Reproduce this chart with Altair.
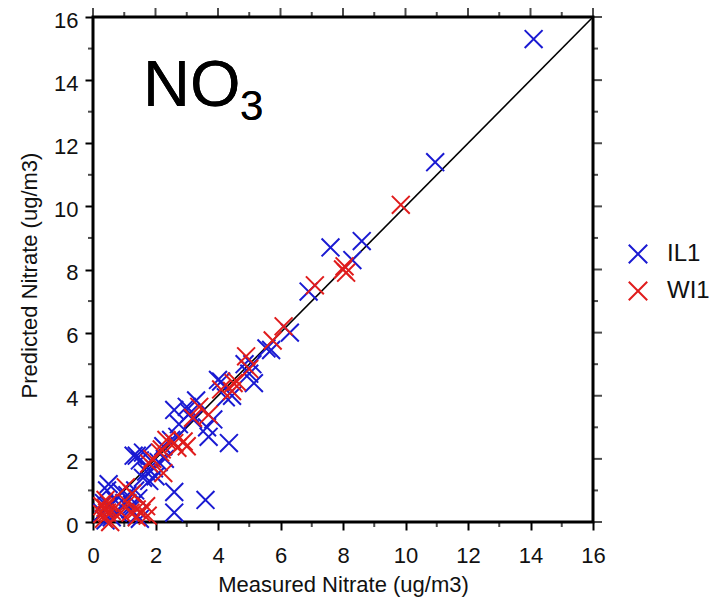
import altair as alt
import pandas as pd

# ---------------- data ----------------
il1_x = [14.1, 10.95, 8.6, 8.3, 7.6, 6.9, 6.3, 5.55, 5.7, 5.1, 4.85, 5.15, 5.0, 4.1, 4.0,
         4.45, 4.25, 3.3, 3.0, 3.85, 3.65, 3.7, 4.35, 2.6, 3.1, 3.2, 2.75, 2.7, 2.25, 2.5,
         1.4, 1.3, 1.5, 1.6, 1.95, 2.0, 1.8, 2.6, 3.6, 2.6, 0.5, 0.45, 1.2, 1.0, 0.8,
         0.6, 0.4, 0.3, 1.4, 1.1, 1.25, 0.9, 1.6, 1.7, 2.1, 2.3, 0.55, 1.5, 0.7, 1.35,
         0.35, 1.45]
il1_y = [15.3, 11.4, 8.9, 8.3, 8.7, 7.3, 6.0, 5.5, 5.45, 5.0, 5.0, 4.4, 4.7, 4.45, 4.5,
         4.0, 3.95, 3.85, 3.65, 3.25, 3.0, 2.7, 2.5, 3.55, 3.45, 3.25, 3.1, 2.7, 2.4, 2.6,
         2.1, 2.1, 1.95, 2.2, 1.7, 1.45, 1.3, 0.95, 0.7, 0.3, 1.2, 1.0, 0.4, 0.6, 0.3,
         0.15, 0.05, 0.3, 0.2, 0.85, 0.55, 0.95, 1.4, 1.6, 1.9, 2.0, 0.5, 0.1, 0.7, 1.0,
         0.6, 0.75]
wi1_x = [9.85, 8.0, 8.1, 8.05, 7.1, 6.1, 5.75, 4.9, 5.0, 4.5, 4.6, 4.1, 4.45, 3.4, 3.7,
         2.9, 3.0, 2.35, 2.15, 2.2, 1.8, 2.25, 1.05, 1.25, 0.4, 0.3, 0.45, 0.35, 0.5, 0.6,
         0.4, 1.4, 1.4, 1.7, 1.75, 1.1, 1.2, 0.9, 1.55, 0.55, 0.3, 1.9, 2.6, 2.7, 3.2]
wi1_y = [10.05, 8.0, 7.9, 8.1, 7.5, 6.2, 5.75, 5.25, 4.85, 4.4, 4.45, 4.2, 4.15, 3.65, 3.4,
         2.55, 2.4, 2.6, 2.2, 2.3, 1.85, 1.55, 1.1, 0.9, 0.45, 0.25, 0.3, 0.1, 0.6, 0.35,
         0.7, 0.4, 0.15, 0.5, 0.2, 0.6, 0.3, 0.3, 0.3, 0.0, 0.5, 2.0, 2.5, 2.35, 3.3]
sites = ["IL1", "WI1"]
site_colors = ["#1a1ad2", "#e01c1c"]
major_ticks = [0, 2, 4, 6, 8, 10, 12, 14, 16]
minor_ticks = [1, 3, 5, 7, 9, 11, 13, 15]
one_to_one = [0, 16]

df = pd.concat([
    pd.DataFrame({"x": il1_x, "y": il1_y, "site": "IL1"}),
    pd.DataFrame({"x": wi1_x, "y": wi1_y, "site": "WI1"}),
], ignore_index=True)
line_df = pd.DataFrame({"x": one_to_one, "y": one_to_one})
major_df = pd.DataFrame({"v": major_ticks})
minor_df = pd.DataFrame({"v": minor_ticks})

FONT = "Liberation Sans"
X_PATH = "M-1,-1L1,1M-1,1L1,-1"

xs = alt.Scale(domain=[0, 16], nice=False, zero=False)
ys = alt.Scale(domain=[0, 16], nice=False, zero=False)

x_axis = alt.Axis(values=major_ticks, title="Measured Nitrate (ug/m3)", labelPadding=15,
                  labelFlush=False, titleY=69, titleBaseline="alphabetic")
y_axis = alt.Axis(values=major_ticks, title="Predicted Nitrate (ug/m3)", labelPadding=7,
                  labelFlush=False, labelOffset=3, titleX=-57, titleY=258,
                  titleBaseline="alphabetic")

line = alt.Chart(line_df).mark_line(color="black", strokeWidth=1.6).encode(
    x=alt.X("x:Q", scale=xs, axis=x_axis),
    y=alt.Y("y:Q", scale=ys, axis=y_axis),
)

points = alt.Chart(df).mark_point(
    shape=X_PATH, filled=False, size=320, strokeWidth=2, opacity=1
).encode(
    x=alt.X("x:Q", scale=xs, axis=x_axis),
    y=alt.Y("y:Q", scale=ys, axis=y_axis),
    color=alt.Color("site:N", scale=alt.Scale(domain=sites, range=site_colors),
                    legend=alt.Legend(title=None, orient="none", legendX=533, legendY=225,
                                      symbolType=X_PATH, symbolSize=340, symbolStrokeWidth=2,
                                      symbolFillColor="transparent",
                                      labelFontSize=24, labelFont=FONT, labelColor="#111",
                                      labelOffset=17, rowPadding=9, padding=0)),
)


def vticks(data, at, length, sign):
    return alt.Chart(data).mark_tick(
        orient="vertical", size=length, thickness=2, color="black",
        yOffset=sign * (length / 2 + 1)
    ).encode(x=alt.X("v:Q", scale=xs, axis=x_axis),
             y=alt.Y(datum=at, scale=ys, axis=y_axis))


def hticks(data, at, length, sign):
    return alt.Chart(data).mark_tick(
        orient="horizontal", size=length, thickness=2, color="black",
        xOffset=sign * (length / 2 + 1)
    ).encode(y=alt.Y("v:Q", scale=ys, axis=y_axis),
             x=alt.X(datum=at, scale=xs, axis=x_axis))


decor = [
    vticks(minor_df, 0, 4, 1),
    vticks(major_df, 16, 8, -1),
    vticks(minor_df, 16, 4, -1),
    hticks(minor_df, 0, 4, -1),
    hticks(major_df, 16, 8, 1),
    hticks(minor_df, 16, 4, 1),
]

title_no = alt.Chart(line_df).mark_text(
    text="NO", font=FONT, fontSize=65, align="left", baseline="alphabetic", color="black"
).encode(x=alt.value(50), y=alt.value(89))
title_3 = alt.Chart(line_df).mark_text(
    text="3", font=FONT, fontSize=42, align="left", baseline="alphabetic", color="black"
).encode(x=alt.value(147), y=alt.value(103))

chart = alt.layer(line, *decor, points, title_no, title_3).properties(
    width=500, height=505,
    padding={"left": 93, "top": 17, "right": 123, "bottom": 78},
    autosize=alt.AutoSizeParams(type="none"),
    background="white",
).configure_view(
    stroke="black", strokeWidth=3
).configure_axis(
    grid=False, domain=False, tickColor="black", tickWidth=2, tickSize=8,
    labelFont=FONT, labelFontSize=22, labelColor="#111",
    titleFont=FONT, titleFontSize=22, titleColor="#111", titleFontWeight="normal",
)

chart.save("out.html", embed_options={"renderer": "svg", "actions": False})
